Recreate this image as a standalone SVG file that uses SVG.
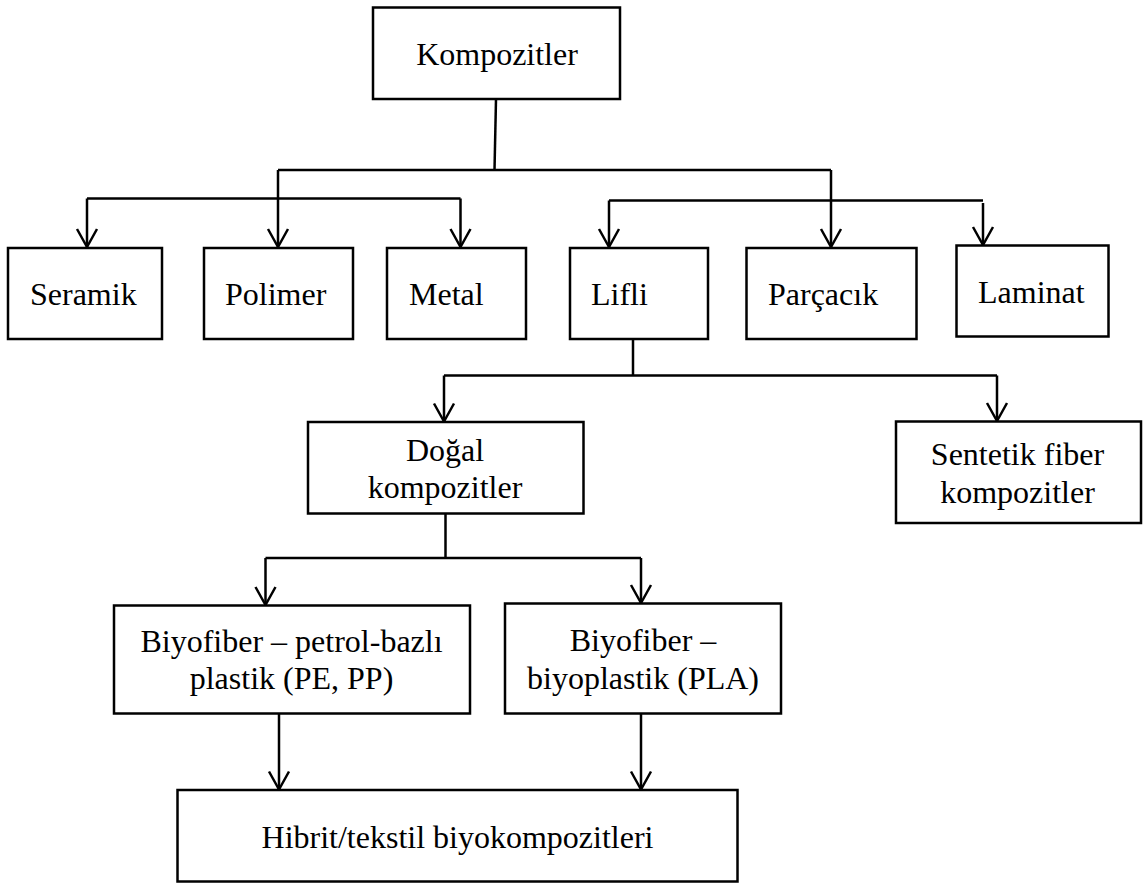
<svg xmlns="http://www.w3.org/2000/svg" width="1143" height="884" viewBox="0 0 1143 884">
<style>
.box{fill:#fff;stroke:#000;stroke-width:2.5}
.t{font-family:"Liberation Serif","Times New Roman",serif;font-size:32px;fill:#000}
.c{text-anchor:middle}
.ln{fill:none;stroke:#000;stroke-width:2.5}
.ar{fill:none;stroke:#000;stroke-width:2.5;marker-end:url(#arr)}
</style>
<defs>
<marker id="arr" markerUnits="userSpaceOnUse" markerWidth="22" markerHeight="24" viewBox="-2 -2 22 24" refX="18" refY="10" orient="auto" overflow="visible">
<path d="M0,0 L18,10 L0,20" fill="none" stroke="#000" stroke-width="2.5"/>
</marker>
</defs>
<rect width="1143" height="884" fill="#fff"/>
<g id="connectors">
<path class="ln" d="M496,99 L494.5,170"/>
<path class="ln" d="M278,170 L831,170"/>
<path class="ar" d="M278,170 L278,247"/>
<path class="ar" d="M831,170 L831,247"/>
<path class="ln" d="M87,198.5 L460.5,198.5"/>
<path class="ar" d="M87,198.5 L87,247"/>
<path class="ar" d="M460.5,198.5 L460.5,247"/>
<path class="ln" d="M609,200.5 L983,200.5"/>
<path class="ar" d="M609,200.5 L609,247"/>
<path class="ar" d="M983,203 L983,245"/>
<path class="ln" d="M633,339 L633,375.5"/>
<path class="ln" d="M444,375.5 L997,375.5"/>
<path class="ar" d="M444,375.5 L444,421.5"/>
<path class="ar" d="M997,375.5 L997,421"/>
<path class="ln" d="M445.5,513.5 L445.5,558"/>
<path class="ln" d="M265.5,558 L641,558"/>
<path class="ar" d="M265.5,558 L265.5,605"/>
<path class="ar" d="M641,558 L641,603"/>
<path class="ar" d="M279,713.5 L279,789.5"/>
<path class="ar" d="M641,713.5 L641,789.5"/>
</g>
<g id="n-kompozitler">
<rect class="box" x="373" y="7.5" width="247" height="91.5"/>
<text class="t c" x="497" y="65">Kompozitler</text>
</g>
<g id="n-seramik">
<rect class="box" x="8" y="248" width="154" height="91"/>
<text class="t" x="30" y="305">Seramik</text>
</g>
<g id="n-polimer">
<rect class="box" x="204" y="248" width="149" height="91"/>
<text class="t" x="225" y="305">Polimer</text>
</g>
<g id="n-metal">
<rect class="box" x="387" y="248" width="139" height="91"/>
<text class="t" x="409" y="305">Metal</text>
</g>
<g id="n-lifli">
<rect class="box" x="570" y="248" width="138" height="91"/>
<text class="t" x="591" y="305">Lifli</text>
</g>
<g id="n-parcacik">
<rect class="box" x="746.5" y="248" width="170" height="91"/>
<text class="t" x="768" y="305">Parçacık</text>
</g>
<g id="n-laminat">
<rect class="box" x="956.5" y="245.5" width="152" height="91"/>
<text class="t" x="978" y="303">Laminat</text>
</g>
<g id="n-dogal">
<rect class="box" x="308" y="422" width="275.5" height="91.5"/>
<text class="t c" x="445" y="461">Doğal</text>
<text class="t c" x="445" y="498">kompozitler</text>
</g>
<g id="n-sentetik">
<rect class="box" x="896" y="421.5" width="245" height="101.5"/>
<text class="t c" x="1017.5" y="465">Sentetik fiber</text>
<text class="t c" x="1017.5" y="502.5">kompozitler</text>
</g>
<g id="n-biyo1">
<rect class="box" x="114" y="605.5" width="356" height="108"/>
<text class="t c" x="291.5" y="651.5">Biyofiber – petrol-bazlı</text>
<text class="t c" x="291.5" y="688.5">plastik (PE, PP)</text>
</g>
<g id="n-biyo2">
<rect class="box" x="505" y="603.5" width="276" height="110"/>
<text class="t c" x="643" y="650.5">Biyofiber –</text>
<text class="t c" x="643" y="688.5">biyoplastik (PLA)</text>
</g>
<g id="n-hibrit">
<rect class="box" x="177.5" y="790" width="560" height="91.5"/>
<text class="t c" x="457.5" y="848">Hibrit/tekstil biyokompozitleri</text>
</g>
</svg>
